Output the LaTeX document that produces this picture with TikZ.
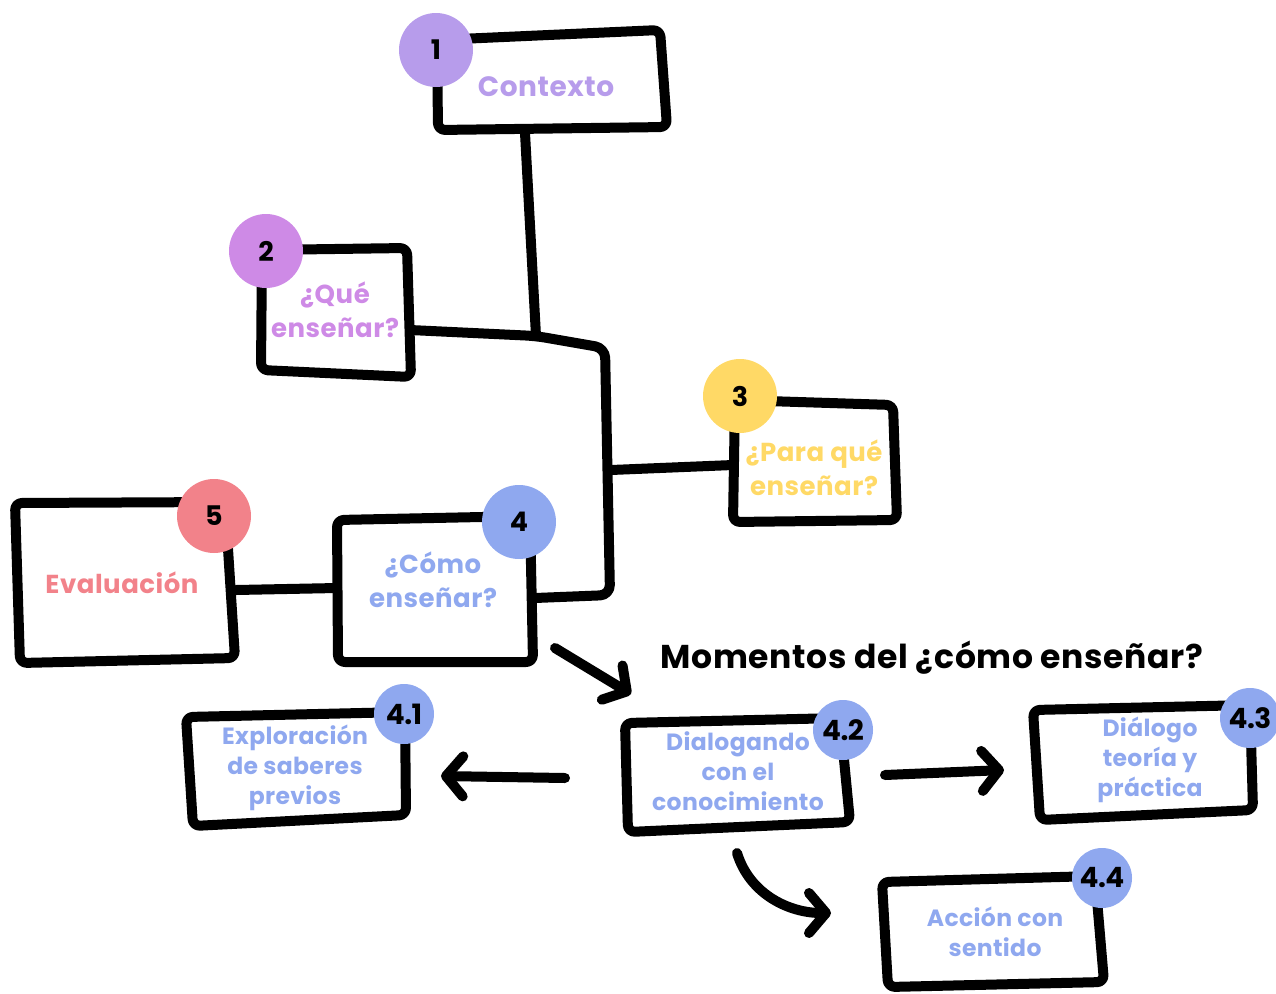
\documentclass[tikz,border=0pt]{standalone}
\usepackage{fontspec}
\setmainfont{Poppins}
\usetikzlibrary{arrows.meta}
\definecolor{cA}{HTML}{B79CEB}
\definecolor{cB}{HTML}{CE8AE6}
\definecolor{cC}{HTML}{FFD966}
\definecolor{cD}{HTML}{8FA8EF}
\definecolor{cE}{HTML}{F2828A}
\begin{document}
\begin{tikzpicture}[x=1pt,y=-1pt,
  boxline/.style={draw=black, line width=10pt, rounded corners=7pt, line join=round},
  link/.style={draw=black, line width=10pt, line cap=round, line join=round},
  arr/.style={link, -{Straight Barb[length=17pt,width=40pt,line cap=round,line join=round]}},
  badge/.style={circle, fill=#1, minimum size=74pt, inner sep=0pt, font=\bfseries\fontsize{27}{27}\selectfont},
  sbadge/.style={circle, fill=#1, minimum size=60pt, inner sep=0pt, font=\bfseries\fontsize{28}{28}\selectfont\addfontfeatures{LetterSpace=-2}},
  lbl/.style={text=#1, align=center, font=\bfseries\fontsize{26}{34}\selectfont\addfontfeatures{LetterSpace=2}},
  slbl/.style={text=#1, align=center, font=\bfseries\fontsize{23.5}{30}\selectfont\addfontfeatures{LetterSpace=1.5}}]
\useasboundingbox (0,0) rectangle (1276,993);
% boxes
\draw[boxline] (437,40) -- (660,30) -- (667,127) -- (438,130) -- cycle;
\draw[boxline] (262,250) -- (407,248) -- (411,377) -- (261,370) -- cycle;
\draw[boxline] (735,400) -- (893,405) -- (897,520) -- (733,522) -- cycle;
\draw[boxline] (337,520) -- (530,516) -- (533,662) -- (338,662) -- cycle;
\draw[boxline] (15,503) -- (225,502) -- (235,658) -- (20,663) -- cycle;
\draw[boxline] (186,717) -- (405,712) -- (406,815) -- (193,826) -- cycle;
\draw[boxline] (625,723) -- (840,718) -- (850,822) -- (628,832) -- cycle;
\draw[boxline] (1033,710) -- (1250,705) -- (1253,810) -- (1040,820) -- cycle;
\draw[boxline] (882,882) -- (1095,876) -- (1104,982) -- (888,987) -- cycle;
% connector endpoints
\coordinate (b1s) at (525,133);
\coordinate (j1) at (536,336);
\coordinate (b2e) at (410,330);
\coordinate (ja) at (605,348);
\coordinate (jb) at (610,595);
\coordinate (jc) at (611,470);
\coordinate (b3w) at (733,465);
\coordinate (b4e) at (535,598);
\coordinate (b5e) at (236,590);
\coordinate (b4w) at (337,588);
\coordinate (p0) at (555,648);
\coordinate (p1) at (631,694);
\coordinate (m0) at (565,778);
\coordinate (m1) at (441,776);
\coordinate (r0) at (885,775);
\coordinate (r1) at (1004,770);
\coordinate (d0) at (737,853);
\coordinate (d1) at (831,913);
% connectors
\draw[link] (b1s) -- (j1);
\draw[link, rounded corners=10pt] (b2e) -- (j1) -- (ja) -- (jb) -- (b4e);
\draw[link] (jc) -- (b3w);
\draw[link] (b5e) -- (b4w);
\draw[arr] (p0) -- (p1);
\draw[arr] (m0) -- (m1);
\draw[arr] (r0) -- (r1);
\draw[arr] (d0) .. controls (750,895) and (790,913) .. (d1);
% badges
\node[badge=cA] (n1) at (436,50) {1};
\node[badge=cB] (n2) at (266,251) {2};
\node[badge=cC] (n3) at (740,396) {3};
\node[badge=cD] (n4) at (519,522) {4};
\node[badge=cE] (n5) at (214,516) {5};
\node[sbadge=cD] (n41) at (404,714) {4.1};
\node[sbadge=cD] (n42) at (843,730) {4.2};
\node[sbadge=cD] (n43) at (1250,718) {4.3};
\node[sbadge=cD] (n44) at (1102,878) {4.4};
% labels
\node[lbl=cA, font=\bfseries\fontsize{28}{34}\selectfont\addfontfeatures{LetterSpace=2}] (t1) at (546,87) {Contexto};
\node[lbl=cB] (t2) at (335,310) {¿Qué\\enseñar?};
\node[lbl=cC] (t3) at (814,468) {¿Para qué\\enseñar?};
\node[lbl=cD] (t4) at (433,580) {¿Cómo\\enseñar?};
\node[lbl=cE] (t5) at (122,583) {Evaluación};
\node[font=\bfseries\fontsize{33}{38}\selectfont\addfontfeatures{LetterSpace=2}] (title) at (932,658) {Momentos del ¿cómo enseñar?};
\node[slbl=cD] (t41) at (295,768) {Exploración\\de saberes\\previos};
\node[slbl=cD] (t42) at (738,771) {Dialogando\\con el\\conocimiento};
\node[slbl=cD] (t43) at (1150,760) {Diálogo\\teoría y\\práctica};
\node[slbl=cD] (t44) at (995,932) {Acción con\\sentido};
\end{tikzpicture}
\end{document}
